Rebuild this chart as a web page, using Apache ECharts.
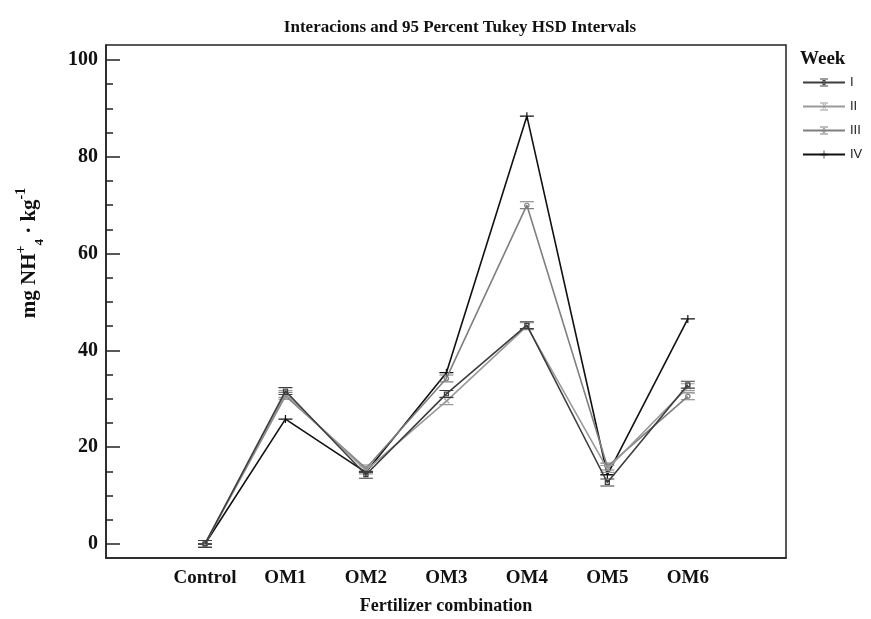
<!DOCTYPE html>
<html>
<head>
<meta charset="utf-8">
<script src="https://cdn.jsdelivr.net/npm/echarts@6/dist/echarts.min.js"></script>
<style>
  html, body { margin: 0; padding: 0; background: #fff; }
  #chart { width: 871px; height: 619px; }
</style>
</head>
<body>
<div id="chart"></div>
<script>
// Fertilizer treatments along the x axis
var categories = ['Control', 'OM1', 'OM2', 'OM3', 'OM4', 'OM5', 'OM6'];
var weeks = ['I', 'II', 'III', 'IV'];
// Mean mg NH4+ per kg for each week
var weekI   = [0.0, 31.6, 14.3, 31.0, 45.2, 12.7, 32.9];
var weekII  = [0.0, 31.0, 15.2, 29.5, 45.0, 15.5, 32.4];
var weekIII = [0.0, 30.6, 15.6, 34.2, 70.0, 16.0, 30.5];
var weekIV  = [0.0, 25.8, 14.8, 35.4, 88.4, 14.3, 46.5];
var yTicks = [0, 20, 40, 60, 80, 100];
var yMinor = [0, 5, 10, 15, 20, 25, 30, 35, 40, 45, 50, 55, 60, 65, 70, 75, 80, 85, 90, 95, 100];

var serif = '"Liberation Serif", "DejaVu Serif", serif';
var sans = '"Liberation Sans", Arial, sans-serif';

// Marker glyphs: caps of the HSD interval plus the week marker
var capBars = 'M0,0h16v1.4h-16z M0,8.6h16v1.4h-16z ';
var symbols = [
  'path://' + capBars + 'M5,2h6v1.4h-6z M5,6.6h6v1.4h-6z M5,2h1.4v6h-1.4z M9.6,2h1.4v6h-1.4z',
  'path://' + capBars + 'M5.2,2.2l1,-0.9l5.6,6l-1,0.9z M10.8,1.3l1,0.9l-5.6,6l-1,-0.9z',
  'path://' + capBars + 'M8,1.8a3.2,3.2 0 1,0 0.01,0z M8,3.2a1.8,1.8 0 1,1 -0.01,0z',
  'path://M0,4.3h16v1.4h-16z M7.3,1h1.4v8h-1.4z'
];
var colors = ['#3d3d3d', '#9a9a9a', '#7f7f7f', '#111111'];
var seriesValues = [weekI, weekII, weekIII, weekIV];

function pairs(vals) {
  return vals.map(function (v, i) { return [i, v]; });
}

var series = weeks.map(function (w, k) {
  return {
    name: w,
    type: 'line',
    data: pairs(seriesValues[k]),
    symbol: symbols[k],
    symbolSize: [14, 8],
    showAllSymbol: true,
    lineStyle: { color: colors[k], width: 1.6 },
    itemStyle: { color: colors[k] },
    z: 10 - k
  };
});

var chart = echarts.init(document.getElementById('chart'), null, { renderer: 'canvas' });
chart.setOption({
  animation: false,
  backgroundColor: '#fff',
  title: {
    text: 'Interacions and 95 Percent Tukey HSD Intervals',
    left: 455, top: 14, textAlign: 'center',
    textStyle: { fontFamily: serif, fontWeight: 'bold', fontSize: 17, color: '#111' }
  },
  legend: {
    orient: 'vertical',
    left: 797, top: 71,
    itemWidth: 42, itemHeight: 10, itemGap: 11,
    data: weeks,
    textStyle: { fontFamily: sans, fontSize: 13, color: '#222' }
  },
  grid: {
    left: 106, top: 45, right: 85, bottom: 61,
    outerBoundsMode: 'none',
    containLabel: false,
    show: true, borderColor: '#222', borderWidth: 1.5, backgroundColor: '#fff'
  },
  xAxis: {
    type: 'value',
    min: -1.23, max: 7.22,
    name: 'Fertilizer combination',
    nameLocation: 'middle', nameGap: 39,
    nameTextStyle: { fontFamily: serif, fontWeight: 'bold', fontSize: 18, color: '#111' },
    axisLine: { show: true, onZero: false, lineStyle: { color: '#222', width: 1.5 } },
    axisTick: { show: false },
    splitLine: { show: false },
    axisLabel: {
      customValues: [0, 1, 2, 3, 4, 5, 6],
      formatter: function (v) { return categories[Math.round(v)]; },
      margin: 11,
      fontFamily: serif, fontWeight: 'bold', fontSize: 19, color: '#111'
    }
  },
  yAxis: [{
    type: 'value',
    min: -2.9, max: 103.1,
    axisLine: { show: true, onZero: false, lineStyle: { color: '#222', width: 1.5 } },
    axisTick: { show: true, inside: true, length: 14, customValues: yTicks, lineStyle: { color: '#222', width: 1.5 } },
    splitLine: { show: false },
    axisLabel: {
      customValues: yTicks,
      margin: 8,
      fontFamily: serif, fontWeight: 'bold', fontSize: 20, color: '#111'
    }
  }, {
    type: 'value',
    position: 'left',
    min: -2.9, max: 103.1,
    axisLine: { show: false, onZero: false },
    axisTick: { show: true, inside: true, length: 7, customValues: yMinor, lineStyle: { color: '#222', width: 1.5 } },
    splitLine: { show: false },
    axisLabel: { show: false }
  }],
  graphic: [{
    type: 'text',
    left: 800, top: 50,
    style: { text: 'Week', fontFamily: serif, fontWeight: 'bold', fontSize: 19, fill: '#111' }
  }, {
    type: 'text',
    x: 30, y: 253,
    rotation: Math.PI / 2,
    style: {
      text: '{b|mg NH}{s|+}{u|4}{b| · kg}{s|-1}',
      align: 'center', verticalAlign: 'middle',
      rich: {
        b: { fontFamily: serif, fontWeight: 'bold', fontSize: 21, fill: '#111', lineHeight: 32, verticalAlign: 'middle' },
        s: { fontFamily: serif, fontWeight: 'bold', fontSize: 14, fill: '#111', lineHeight: 32, verticalAlign: 'top' },
        u: { fontFamily: serif, fontWeight: 'bold', fontSize: 13, fill: '#111', lineHeight: 32, verticalAlign: 'bottom' }
      }
    }
  }],
  series: series
});
</script>
</body>
</html>
